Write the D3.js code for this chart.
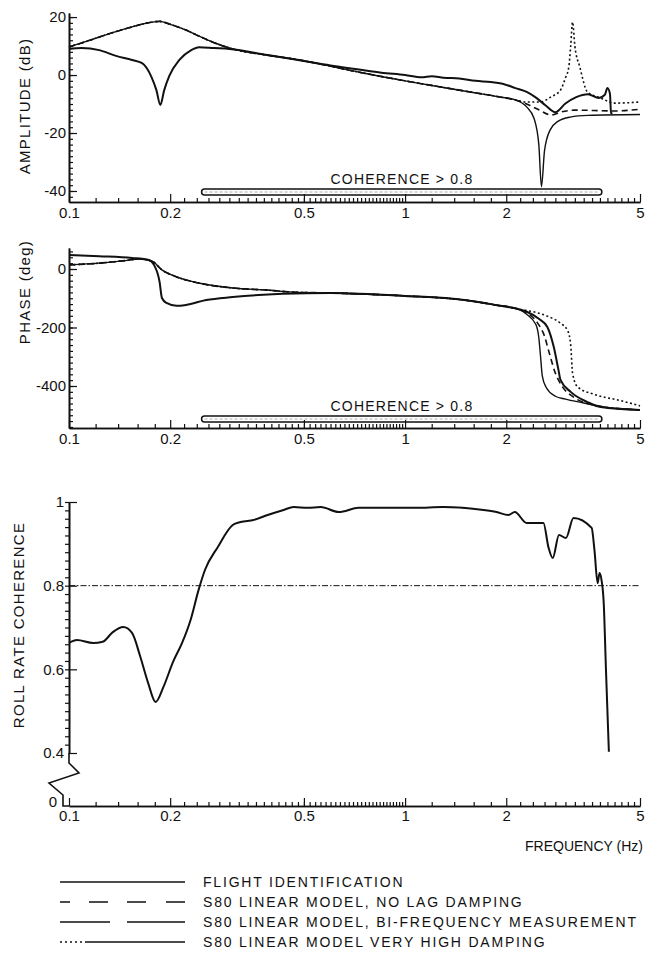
<!DOCTYPE html>
<html>
<head>
<meta charset="utf-8">
<script src="https://cdn.jsdelivr.net/npm/d3@7"></script>
<style>
    body { margin: 0; background: #fff; }
    text { font-family: "Liberation Sans", Arial, sans-serif; fill: #111; }
    .domain { stroke: #111; stroke-width: 1.6; }
    .tick line { stroke: #111; stroke-width: 1.2; }
    .tick text { font-size: 15px; }
    .curve { fill: none; stroke: #111; }
</style>
</head>
<body>
<script>
// --- tick labels / categories ---
const freqMajor = [0.1, 0.2, 0.5, 1, 2, 5];
const ampTicks = [20, 0, -20, -40];
const phaseTicks = [0, -200, -400];
const cohTicks = [0.4, 0.6, 0.8, 1];
const cohThreshold = 0.8;
const cohBand = [0.248, 3.85];   // frequency range where coherence > 0.8

// --- amplitude (dB) ---
const ampFlight = [[0.1, 9.0], [0.109, 9.3], [0.123, 8.6], [0.138, 6.6], [0.154, 5.2], [0.165, 4.1],
    [0.176, -0.7], [0.182, -5.2], [0.187, -10.3], [0.192, -5.2], [0.199, -0.2], [0.213, 5.2],
    [0.231, 8.6], [0.244, 9.6], [0.27, 9.3], [0.3, 9.0], [0.39, 6.9], [0.49, 5.0], [0.6, 3.3],
    [0.72, 2.0], [0.85, 0.8], [1.0, 0.0], [1.12, -0.8], [1.2, -0.4], [1.3, -0.9], [1.45, -1.2],
    [1.62, -2.0], [1.8, -2.4], [1.95, -3.0], [2.13, -4.5], [2.3, -5.8], [2.44, -7.6], [2.62, -10.5],
    [2.8, -12.8], [3.0, -9.8], [3.23, -7.6], [3.5, -6.6], [3.77, -7.9], [3.93, -6.8], [4.0, -4.5],
    [4.07, -6.5], [4.1, -13.1], [4.14, -13.3]];
const ampModelBase = [[0.1, 9.7], [0.112, 11.5], [0.123, 13.1], [0.138, 15.0], [0.154, 16.6],
    [0.17, 17.9], [0.186, 18.5], [0.2, 17.5], [0.223, 15.5], [0.245, 13.3], [0.267, 11.4],
    [0.307, 9.0], [0.386, 6.9], [0.485, 5.2], [0.58, 3.4], [0.75, 0.7], [1.0, -2.0], [1.5, -5.5],
    [1.92, -7.6], [2.13, -8.6]];
const ampNoLag = ampModelBase.concat([[2.3, -10], [2.5, -12], [2.72, -13.8], [2.9, -12.8],
    [3.2, -12.1], [4.2, -12.4], [5, -11.8]]);
const ampBiFreq = ampModelBase.concat([[2.3, -9.3], [2.53, -9.3], [2.72, -7.5], [2.9, -5.2],
    [3.0, -1], [3.07, 2.8], [3.11, 10], [3.15, 18.3], [3.2, 10], [3.31, 2.8], [3.49, -5.9],
    [3.82, -7.9], [4.19, -9.7], [5, -9.3]]);
const ampHighDamp = ampModelBase.concat([[2.3, -11], [2.42, -15], [2.5, -24], [2.545, -38.5],
    [2.6, -26], [2.7, -19], [2.85, -16], [3.1, -14.5], [3.5, -13.9], [5, -13.6]]);

// --- phase (deg) ---
const phaseFlight = [[0.1, 48], [0.123, 44], [0.154, 38], [0.173, 31], [0.179, 14], [0.186, -44],
    [0.189, -99], [0.195, -116], [0.209, -126], [0.223, -123], [0.256, -106], [0.307, -96],
    [0.432, -85], [0.6, -82], [1.0, -92], [1.5, -106], [1.86, -123], [2.17, -137], [2.31, -147],
    [2.5, -170], [2.65, -198], [2.77, -267], [2.86, -345], [2.9, -379], [3.11, -420], [3.49, -455],
    [3.82, -472], [5, -482]];
const phaseModelBase = [[0.1, 14], [0.123, 20], [0.145, 28], [0.162, 34], [0.177, 26], [0.189, -3],
    [0.209, -27], [0.243, -48], [0.307, -65], [0.386, -72], [0.463, -79], [0.6, -82], [1.0, -92],
    [1.5, -106], [1.86, -123], [2.17, -137]];
const phaseNoLag = phaseModelBase.concat([[2.3, -150], [2.48, -185], [2.6, -230], [2.67, -277],
    [2.8, -356], [2.94, -403], [3.17, -438], [3.64, -465], [5, -482]]);
const phaseBiFreq = phaseModelBase.concat([[2.25, -140], [2.48, -150], [2.7, -165], [2.9, -185],
    [3.05, -212], [3.11, -260], [3.15, -356], [3.26, -403], [3.64, -428], [4.38, -450], [5, -468]]);
const phaseHighDamp = phaseModelBase.concat([[2.3, -155], [2.45, -190], [2.5, -235], [2.53, -300],
    [2.56, -365], [2.63, -405], [2.8, -435], [3.0, -445], [3.4, -458], [3.8, -470], [5, -482]]);

// --- roll rate coherence ---
const cohFlight = [[0.1, 0.663], [0.1056, 0.670], [0.118, 0.663], [0.126, 0.666], [0.135, 0.689],
    [0.145, 0.701], [0.154, 0.687], [0.163, 0.630], [0.172, 0.567], [0.181, 0.522], [0.191, 0.558],
    [0.204, 0.618], [0.217, 0.663], [0.230, 0.718], [0.243, 0.790], [0.254, 0.838], [0.277, 0.892],
    [0.307, 0.945], [0.324, 0.952], [0.354, 0.957], [0.390, 0.969], [0.435, 0.981], [0.466, 0.988],
    [0.513, 0.986], [0.561, 0.988], [0.635, 0.976], [0.728, 0.986], [1.076, 0.986], [1.297, 0.988],
    [1.71, 0.981], [1.87, 0.976], [2.03, 0.969], [2.12, 0.976], [2.30, 0.950], [2.58, 0.950],
    [2.67, 0.892], [2.75, 0.866], [2.87, 0.921], [3.01, 0.914], [3.17, 0.962], [3.59, 0.938],
    [3.66, 0.885], [3.74, 0.806], [3.79, 0.830], [3.84, 0.814], [3.90, 0.758], [3.96, 0.599],
    [4.04, 0.403]];

const legendLabels = ["FLIGHT IDENTIFICATION", "S80 LINEAR MODEL, NO LAG DAMPING",
    "S80 LINEAR MODEL, BI-FREQUENCY MEASUREMENT", "S80 LINEAR MODEL VERY HIGH DAMPING"];

// line styles: flight, no lag, bi-frequency, very high damping
const styles = [
    {width: 2.0, dash: null},
    {width: 1.6, dash: "6,4"},
    {width: 1.6, dash: "2,2.5"},
    {width: 1.4, dash: null}
];
const legendDash = [null, "10,19,19,19,19,20,19", "50,17,60", "2,3,2,3,2,3,2,3,2,3,100"];

const X0 = 69, X1 = 640;
const svg = d3.select("body").append("svg").attr("width", 645).attr("height", 960);
const x = d3.scaleLog().domain([0.1, 5]).range([X0, X1]);

const xMinor = [].concat(d3.range(0.12, 0.199, 0.02), d3.range(0.22, 0.999, 0.02),
    d3.range(1.2, 1.99, 0.2), d3.range(2.2, 4.99, 0.2));

/**
 * Frequency axis with inward ticks
 */
function drawXAxis(yPos, pad) {
    svg.append("g").attr("transform", `translate(0,${yPos})`)
        .call(d3.axisBottom(x).tickValues(xMinor).tickSize(-4).tickSizeOuter(0).tickFormat(""));
    svg.append("g").attr("transform", `translate(0,${yPos})`)
        .call(d3.axisBottom(x).tickValues(freqMajor).tickSize(-8).tickSizeOuter(0).tickPadding(pad)
            .tickFormat(d => String(d)));
}

/**
 * Left value axis, minor + major ticks
 */
function drawYAxis(y, minor, major, inner, pad) {
    svg.append("g").attr("transform", `translate(${X0},0)`)
        .call(d3.axisLeft(y).tickValues(minor).tickSize(inner ? -4 : 4).tickSizeOuter(0).tickFormat(""));
    svg.append("g").attr("transform", `translate(${X0},0)`)
        .call(d3.axisLeft(y).tickValues(major).tickSize(-8).tickSizeOuter(0).tickPadding(pad)
            .tickFormat(d => String(d)));
}

function drawCurves(y, series) {
    let line = d3.line().x(d => x(d[0])).y(d => y(d[1])).curve(d3.curveMonotoneX);
    series.forEach((s, i) => {
        svg.append("path").attr("class", "curve")
            .attr("d", line(s))
            .attr("stroke-width", styles[i].width)
            .attr("stroke-dasharray", styles[i].dash);
    });
}

function drawBand(yPos) {
    svg.append("rect")
        .attr("x", x(cohBand[0])).attr("y", yPos - 3)
        .attr("width", x(cohBand[1]) - x(cohBand[0])).attr("height", 6)
        .attr("rx", 3).attr("fill", "#fff").attr("stroke", "#111").attr("stroke-width", 1.5);
    svg.append("line")
        .attr("x1", x(cohBand[0]) + 3).attr("x2", x(cohBand[1]) - 3)
        .attr("y1", yPos).attr("y2", yPos)
        .attr("stroke", "#777").attr("stroke-width", 0.6).attr("stroke-dasharray", "3,2");
    svg.append("text")
        .attr("x", x(0.6)).attr("y", yPos - 8)
        .attr("font-size", 14).attr("letter-spacing", 1.2)
        .text("COHERENCE > " + cohThreshold);
}

function yTitle(label, cx, cy) {
    svg.append("text")
        .attr("transform", `translate(${cx},${cy}) rotate(-90)`)
        .attr("text-anchor", "middle").attr("dy", "0.35em")
        .attr("font-size", 15).attr("letter-spacing", 1.3)
        .text(label);
}

// --- amplitude panel ---
let yAmp = d3.scaleLinear().domain([-43.8, 21.4]).range([202, 13]);
drawCurves(yAmp, [ampFlight, ampNoLag, ampBiFreq, ampHighDamp]);
drawBand(192);
drawYAxis(yAmp, d3.range(-42, 21, 2), ampTicks, true, 3);
drawXAxis(202, 5);
yTitle("AMPLITUDE (dB)", 25, 106);

// --- phase panel ---
let yPhase = d3.scaleLinear().domain([-543.6, 71.8]).range([428, 248]);
drawCurves(yPhase, [phaseFlight, phaseNoLag, phaseBiFreq, phaseHighDamp]);
drawBand(419);
drawYAxis(yPhase, d3.range(-540, 61, 20), phaseTicks, true, 3);
drawXAxis(428, 5);
yTitle("PHASE (deg)", 25, 292);

// --- coherence panel ---
const cohBase = 806;
let yCoh = d3.scaleLinear().domain([0.4, 1]).range([753, 502]);
svg.append("line")
    .attr("x1", X0).attr("x2", X1)
    .attr("y1", yCoh(cohThreshold)).attr("y2", yCoh(cohThreshold))
    .attr("stroke", "#111").attr("stroke-width", 1).attr("stroke-dasharray", "6,2,1.5,2");
svg.append("path").attr("class", "curve")
    .attr("d", d3.line().x(d => x(d[0])).y(d => yCoh(d[1])).curve(d3.curveMonotoneX)(cohFlight))
    .attr("stroke-width", 2);
drawYAxis(yCoh, d3.range(0.42, 1, 0.02), cohTicks, false, 5);

// axis break between 0.4 and 0
let yb = yCoh(0.4);
svg.append("path")
    .attr("d", `M${X0},${yb}V${yb + 10}L${X0 + 10},${yb + 20}L${X0 - 20},${yb + 30}L${X0 - 6},${yb + 42}V${cohBase}H${X0}`)
    .attr("fill", "none").attr("stroke", "#111").attr("stroke-width", 1.6);
svg.append("text").attr("x", X0 - 12).attr("y", cohBase + 1)
    .attr("text-anchor", "end").attr("font-size", 15).text("0");
drawXAxis(cohBase, 4);
yTitle("ROLL RATE COHERENCE", 19, 625);

svg.append("text")
    .attr("x", 643).attr("y", 851).attr("text-anchor", "end")
    .attr("font-size", 14).text("FREQUENCY (Hz)");

// --- legend ---
legendLabels.forEach((label, i) => {
    let yy = 882 + i * 20;
    svg.append("line")
        .attr("x1", 60).attr("x2", 185).attr("y1", yy).attr("y2", yy)
        .attr("stroke", "#111").attr("stroke-width", 1.4)
        .attr("stroke-dasharray", legendDash[i]);
    svg.append("text")
        .attr("x", 203).attr("y", yy + 5)
        .attr("font-size", 14).attr("letter-spacing", 1.8)
        .text(label);
});
</script>
</body>
</html>
